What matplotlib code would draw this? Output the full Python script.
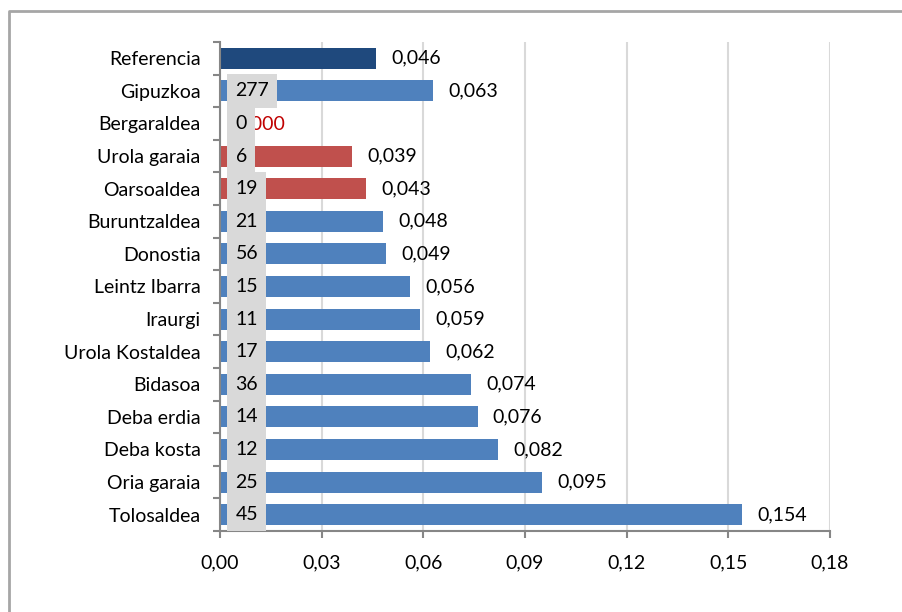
import matplotlib.pyplot as plt
from matplotlib.lines import Line2D
from matplotlib.ticker import FuncFormatter, FixedLocator

plt.rcParams["font.family"] = ["Lato", "DejaVu Sans"]
plt.rcParams["font.size"] = 14

# Comarcas (top to bottom)
zones = ["Referencia", "Gipuzkoa", "Bergaraldea", "Urola garaia", "Oarsoaldea",
         "Buruntzaldea", "Donostia", "Leintz Ibarra", "Iraurgi", "Urola Kostaldea",
         "Bidasoa", "Deba erdia", "Deba kosta", "Oria garaia", "Tolosaldea"]
rates = [0.046, 0.063, 0.000, 0.039, 0.043, 0.048, 0.049, 0.056, 0.059, 0.062,
         0.074, 0.076, 0.082, 0.095, 0.154]
counts = [None, 277, 0, 6, 19, 21, 56, 15, 11, 17, 36, 14, 12, 25, 45]
groups = ["ref", "main", "low", "low", "low", "main", "main", "main", "main", "main",
          "main", "main", "main", "main", "main"]

colors = {"ref": "#1f497d", "main": "#4f81bd", "low": "#c0504d"}
bar_colors = [colors[g] for g in groups]

fig = plt.figure(figsize=(9.03, 6.12), dpi=100)
ax = fig.add_axes([0.2436, 0.1324, 0.6756, 0.799])

# outer chart border: only the left and top edges fall inside the image
bx, by = 9 / 903, 1 - 11 / 612
fig.add_artist(Line2D([bx, bx, 1.0], [0.0, by, by], transform=fig.transFigure,
                      color="#a6a6a6", linewidth=2))

pos = list(range(len(zones)))
ax.barh(pos, rates, height=0.64, color=bar_colors, zorder=2)

for i, (r, c) in enumerate(zip(rates, counts)):
    txt_color = "#c00000" if r == 0 else "black"
    ax.annotate(f"{r:.3f}".replace(".", ","), xy=(r, i), xytext=(11, 0),
                textcoords="offset points", ha="left", va="center",
                color=txt_color, zorder=3)
    if c is not None:
        ax.annotate(str(c), xy=(0, i), xytext=(11.2, 0),
                    textcoords="offset points", ha="left", va="center",
                    zorder=4,
                    bbox=dict(boxstyle="square,pad=0.42", fc="#d9d9d9", ec="none"))

ax.set_xlim(0, 0.18)
ax.set_ylim(len(zones) - 0.5, -0.5)
ax.set_xticks([0, 0.03, 0.06, 0.09, 0.12, 0.15, 0.18])
ax.xaxis.set_major_formatter(FuncFormatter(lambda v, p: f"{v:.2f}".replace(".", ",")))

# category ticks between bars, labels centred on bars
ax.yaxis.set_major_locator(FixedLocator([p - 0.5 for p in pos] + [len(zones) - 0.5]))
ax.yaxis.set_major_formatter(FuncFormatter(lambda v, p: ""))
ax.yaxis.set_minor_locator(FixedLocator(pos))
ax.set_yticklabels(zones, minor=True)
ax.tick_params(axis="y", which="minor", length=0, pad=14)
ax.tick_params(axis="y", which="major", length=5, width=1.5, color="#868686")
ax.tick_params(axis="x", length=5, width=1.5, color="#868686", pad=12)

ax.grid(axis="x", color="#d9d9d9", linewidth=1.5, zorder=0)
ax.set_axisbelow(True)
for side in ["top", "right"]:
    ax.spines[side].set_visible(False)
for side in ["left", "bottom"]:
    ax.spines[side].set_color("#868686")
    ax.spines[side].set_linewidth(1.5)

fig.savefig("out.png", dpi=100)
